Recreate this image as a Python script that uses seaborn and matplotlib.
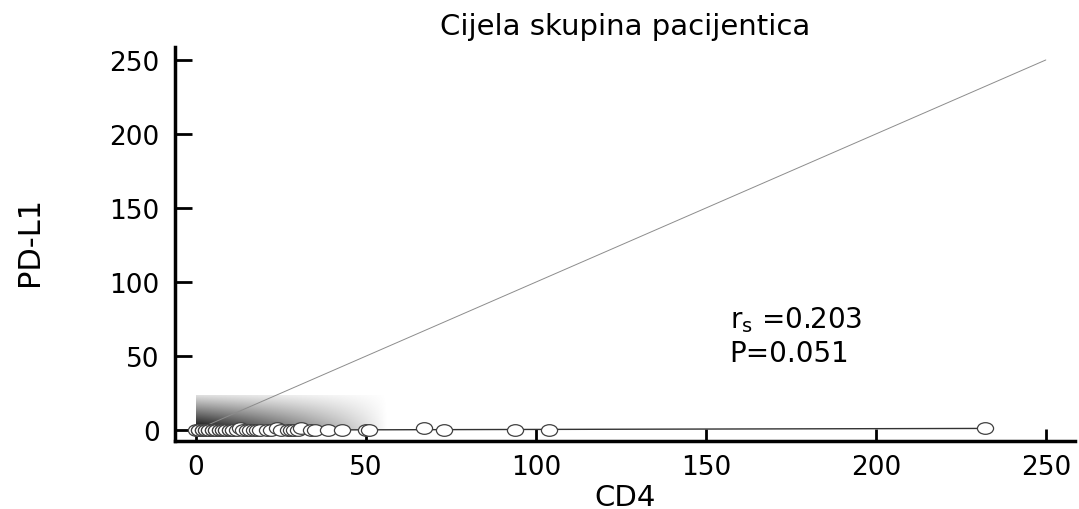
import numpy as np
import pandas as pd
import matplotlib
matplotlib.use("Agg")
import matplotlib.pyplot as plt
from matplotlib.path import Path
from matplotlib.transforms import Affine2D
import seaborn as sns

# ---- data ----
cd4 = [0, 1, 1, 2, 2, 3, 3, 4, 4, 5, 5, 6, 6, 7, 7, 8, 8, 9, 9, 10, 10, 11, 11, 12,
       13, 14, 15, 16, 17, 18, 19, 21, 22, 24, 25, 27, 28, 29, 30, 31, 34, 35, 39,
       43, 50, 51, 67, 73, 94, 104, 232]
pdl1 = [0, 0, 0, 0, 0, 0, 0, 0, 0, 0, 0, 0, 0, 0, 0, 0, 0, 0, 0, 0, 0, 0, 0, 0,
        1.5, 0, 0, 0, 0, 0, 0, 0, 0, 1.5, 0, 0, 0, 0, 0, 1.5, 0, 0, 0,
        0, 0, 0, 1.5, 0, 0, 0, 1.5]
identity_range = [0, 250]
ticks = [0, 50, 100, 150, 200, 250]
title = "Cijela skupina pacijentica"
xlabel = "CD4"
ylabel = "PD-L1"
rs_text = "r$_\\mathregular{s}$ =0.203"
p_text = "P=0.051"

df = pd.DataFrame({"CD4": cd4, "PD-L1": pdl1})

sns.set_style("white")
plt.rcParams["font.family"] = ["DejaVu Sans"]
plt.rcParams["mathtext.fontset"] = "dejavusans"
plt.rcParams["text.color"] = "black"
plt.rcParams["axes.labelcolor"] = "black"

fig = plt.figure(figsize=(10.79, 5.10), dpi=100)
ax = fig.add_axes([0.162, 0.133, 0.834, 0.773])

# shaded density-like gradient near the origin
gx = np.linspace(0, 56, 240)
gy = np.linspace(0, 23, 100)
GX, GY = np.meshgrid(gx, gy)
intensity = (np.clip(1 - GX / 56, 0, 1) ** 0.9) * (np.clip(1 - GY / 27, 0, 1) ** 1.1)
ax.imshow(intensity, extent=[0, 56, 0, 23], origin="lower", cmap="gray_r",
          vmin=0, vmax=1, aspect="auto", zorder=0, interpolation="bilinear")

# identity line
ax.plot(identity_range, identity_range, color="0.55", lw=0.7, zorder=1)

# elliptical open marker
ellipse = Path.unit_circle().transformed(Affine2D().scale(1.0, 0.72))

# regression line + points
sns.regplot(data=df, x="CD4", y="PD-L1", ax=ax, ci=None, scatter=False,
            line_kws=dict(color="0.2", lw=1.0, zorder=2))
sns.scatterplot(data=df, x="CD4", y="PD-L1", ax=ax, marker=ellipse, s=135,
                facecolor="white", edgecolor="0.25", linewidth=0.9, zorder=3)

ax.set_xlim(-6.2, 258.5)
ax.set_ylim(-7.4, 258.8)
ax.set_xticks(ticks)
ax.set_yticks(ticks)
ax.tick_params(direction="in", width=2, labelsize=19, colors="black",
               bottom=True, left=True)
ax.tick_params(axis="x", length=9, pad=9)
ax.tick_params(axis="y", length=12.5, pad=11)
for s in ["top", "right"]:
    ax.spines[s].set_visible(False)
for s in ["left", "bottom"]:
    ax.spines[s].set_linewidth(2.5)
    ax.spines[s].set_color("black")

ax.text(0.5, 1.053, title, transform=ax.transAxes, fontsize=21,
        ha="center", va="center", color="black")
ax.set_xlabel(xlabel, fontsize=21, color="black")
ax.xaxis.set_label_coords(0.5, -0.105)
ax.set_ylabel(ylabel, fontsize=22, color="black")
ax.yaxis.set_label_coords(-0.161, 0.51)
ax.yaxis.label.set_va("center")

ax.text(157, 75, rs_text, fontsize=20, va="center", ha="left", color="black")
ax.text(157, 52, p_text, fontsize=20, va="center", ha="left", color="black")

fig.savefig("out.png", dpi=100)
